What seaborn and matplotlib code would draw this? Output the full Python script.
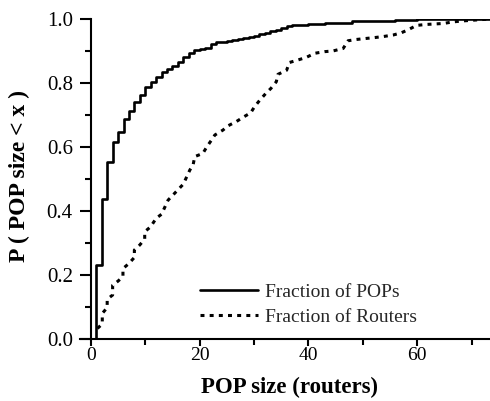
import numpy as np
import pandas as pd
import seaborn as sns
import matplotlib
matplotlib.use("Agg")
import matplotlib.pyplot as plt
from matplotlib.ticker import MultipleLocator, FormatStrFormatter

# CDF of POP sizes (step function, value after each step)
pop_size = [0, 1, 2, 3, 4, 5, 6, 7, 8, 9, 10, 11, 12, 13, 14, 15, 16, 17, 18, 19,
            20, 21, 22, 23, 24, 25, 26, 27, 28, 29, 30, 31, 32, 33, 34, 35, 36,
            37, 38, 40, 43, 46, 48, 52, 56, 60, 62, 76]
frac_pops = [0.0, 0.23, 0.4375, 0.553, 0.617, 0.648, 0.6875, 0.713, 0.742, 0.764,
             0.788, 0.804, 0.818, 0.835, 0.844, 0.853, 0.867, 0.880, 0.893, 0.903,
             0.905, 0.908, 0.922, 0.927, 0.929, 0.932, 0.935, 0.937, 0.940, 0.943,
             0.946, 0.952, 0.957, 0.962, 0.967, 0.973, 0.979, 0.981, 0.982, 0.984,
             0.986, 0.988, 0.993, 0.995, 0.997, 0.999, 1.0, 1.0]

# CDF of routers by POP size
router_size = [1.2, 2.1, 2.1, 3.0, 3.0, 4.0, 4.0, 5.0, 5.9, 5.9, 7.0, 8.0, 8.0, 9.0,
               9.9, 9.9, 11.0, 12.0, 13.0, 14.2, 16.0, 17.0, 18.2, 18.8, 19.1, 20.6,
               21.3, 22.2, 22.8, 24.3, 25.2, 26.8, 28.0, 29.4, 30.1, 31.1, 32.2,
               33.1, 34.1, 34.4, 36.0, 36.5, 38.1, 39.6, 41.2, 43.0, 44.5, 46.4,
               47.3, 48.8, 52.2, 53.7, 55.6, 57.1, 58.3, 59.9, 61.7, 64.8, 66.6,
               68.4, 70.9, 73.3]
frac_routers = [0.033, 0.047, 0.080, 0.098, 0.124, 0.1375, 0.168, 0.181, 0.195, 0.220,
                0.236, 0.255, 0.278, 0.294, 0.3125, 0.335, 0.351, 0.377, 0.390, 0.434,
                0.466, 0.484, 0.528, 0.544, 0.570, 0.580, 0.600, 0.622, 0.6375, 0.653,
                0.666, 0.680, 0.693, 0.707, 0.726, 0.747, 0.768, 0.783, 0.804, 0.827,
                0.840, 0.864, 0.872, 0.880, 0.893, 0.898, 0.900, 0.908, 0.932, 0.936,
                0.942, 0.945, 0.950, 0.957, 0.966, 0.980, 0.983, 0.986, 0.991, 0.994,
                0.997, 1.0]

x_ticks = [0, 20, 40, 60]
y_ticks = [0.0, 0.2, 0.4, 0.6, 0.8, 1.0]

sns.set_theme(style="ticks")
plt.rcParams['font.family'] = ['Liberation Serif', 'DejaVu Serif']

fig = plt.figure(figsize=(4.9, 4.01), dpi=100)
ax = fig.add_axes([80 / 490, 62 / 401, 410 / 490, 320 / 401])

pops_df = pd.DataFrame({"size": pop_size, "frac": frac_pops})
rout_df = pd.DataFrame({"size": router_size, "frac": frac_routers})

sns.lineplot(data=pops_df, x="size", y="frac", drawstyle="steps-post", color="black",
             lw=1.9, label="Fraction of POPs", ax=ax, sort=False)
sns.lineplot(data=rout_df, x="size", y="frac", color="black", lw=2.2,
             linestyle=(0, (1.3, 1.7)), label="Fraction of Routers", ax=ax,
             sort=False, estimator=None)

ax.set_xlim(-2, 73.4)
ax.set_ylim(0, 1.0)
ax.spines['top'].set_visible(False)
ax.spines['right'].set_visible(False)
ax.spines['left'].set_position(('data', 0))
for s in ('left', 'bottom'):
    ax.spines[s].set_linewidth(1.5)
    ax.spines[s].set_color('black')

ax.set_xticks(x_ticks)
ax.set_yticks(y_ticks)
ax.xaxis.set_minor_locator(MultipleLocator(10))
ax.yaxis.set_minor_locator(MultipleLocator(0.1))
ax.yaxis.set_major_formatter(FormatStrFormatter('%.1f'))
ax.tick_params(which='major', direction='out', length=8, width=1.5, colors='black',
               pad=5)
ax.tick_params(which='minor', direction='out', length=4, width=1.5, colors='black')
ax.tick_params(axis='y', which='major', labelsize=15)
ax.tick_params(axis='x', which='major', length=5, pad=1, labelsize=14)
ax.tick_params(axis='x', which='minor', length=4)

ax.set_xlabel("POP size (routers)", fontsize=16.5, fontweight='bold', color='black')
ax.xaxis.set_label_coords(0.512, -0.118)
ax.set_ylabel("P ( POP size < x )", fontsize=17, fontweight='bold', color='black')
ax.yaxis.set_label_coords(-0.122, 0.51)

ax.legend(loc='center left', bbox_to_anchor=(0.25, 0.108), frameon=False, fontsize=14,
          handlelength=3.0, handletextpad=0.36, labelspacing=0.4, borderpad=0.4)

fig.savefig("out.png", dpi=100)
